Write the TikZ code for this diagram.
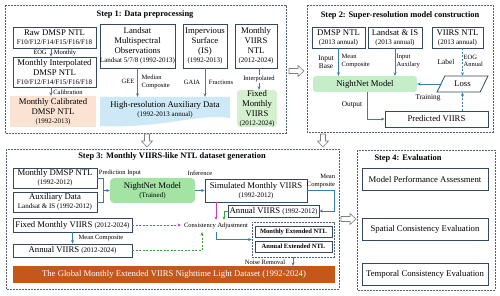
\documentclass[tikz,border=0pt]{standalone}
\usepackage{fontspec}
\setmainfont{Liberation Serif}
\usetikzlibrary{arrows.meta,shapes.geometric,calc}
\definecolor{boxc}{HTML}{34495E}
\definecolor{framec}{HTML}{4F5F70}
\definecolor{arrc}{HTML}{3A7DB0}
\definecolor{peach}{HTML}{FBE3D4}
\definecolor{skyc}{HTML}{CDE9F8}
\definecolor{lgreen}{HTML}{D5F0CF}
\definecolor{mgreen}{HTML}{A3E3A3}
\definecolor{ngreen}{HTML}{C5EDC8}
\definecolor{orangec}{HTML}{C4581B}
\definecolor{magc}{HTML}{C33DC3}
\definecolor{grnc}{HTML}{3E9B3E}
\definecolor{hollowc}{HTML}{7F7F7F}
\newcommand\fmain{\fontsize{8.7}{10}\selectfont}
\newcommand\fsmall{\fontsize{7}{8}\selectfont}
\newcommand\flab{\fontsize{6.5}{7.6}\selectfont}
\newcommand\flabb{\fontsize{7.3}{8}\selectfont}
\newcommand\ftitle{\fontsize{8.4}{10}\selectfont\bfseries}
\newcommand\hollowright[3]{\draw[hollow] (#1,#3-2.5) -- (#2-6,#3-2.5) -- (#2-6,#3-5.5) -- (#2,#3) -- (#2-6,#3+5.5) -- (#2-6,#3+2.5) -- (#1,#3+2.5) -- cycle;}
\newcommand\hollowdown[3]{\draw[hollow] (#1-2.5,#2) -- (#1-2.5,#3-6) -- (#1-5.5,#3-6) -- (#1,#3) -- (#1+5.5,#3-6) -- (#1+2.5,#3-6) -- (#1+2.5,#2) -- cycle;}
\tikzset{
  bx/.style={draw=boxc, line width=0.8pt, inner sep=0pt, align=center, font=\fmain},
  fillbox/.style={inner sep=0pt, align=center, font=\fmain},
  frame/.style={draw=framec, line width=0.7pt, dash pattern=on 2pt off 1pt},
  arr/.style={draw=arrc, line width=0.7pt, -{Stealth[length=3.5pt,width=3pt]}},
  ln/.style={draw=arrc, line width=0.7pt},
  dsh/.style={dash pattern=on 2pt off 1.5pt},
  lab/.style={font=\flab, inner sep=0.5pt, align=center},
  labb/.style={font=\flabb, inner sep=0.5pt, align=center},
  ttl/.style={font=\ftitle, inner sep=0pt},
  hollow/.style={draw=hollowc, fill=white, line width=0.6pt}
}
\begin{document}
\begin{tikzpicture}[x=1pt,y=-1pt]
\useasboundingbox (0,0) rectangle (500,296);
% frames
\draw[frame] (5,5) rectangle (286,133);
\draw[frame] (307,5) rectangle (493,132);
\draw[frame] (6,149) rectangle (339,289);
\draw[frame] (357,150) rectangle (495,290);
% hollow arrows
\hollowright{289}{304}{71}
\hollowdown{147}{134}{147}
\hollowdown{323}{134}{147}
\hollowright{341}{356}{219}

% ---------- Step 1 ----------
\node[ttl] (t1) at (145,15) {Step 1: Data preprocessing};
\node[bx, minimum width=83pt, minimum height=21pt] (raw) at (54.5,37.5) {Raw DMSP NTL\\[-1pt]{\fsmall F10/F12/F14/F15/F16/F18}};
\node[bx, minimum width=83pt, minimum height=30pt] (interp) at (54.5,72) {Monthly Interpolated\\DMSP NTL\\[-1pt]{\fsmall F10/F12/F14/F15/F16/F18}};
\node[fillbox, fill=peach, minimum width=86pt, minimum height=31pt] (calib) at (53,111.5) {Monthly Calibrated\\DMSP NTL\\[-1pt]{\fsmall (1992-2013)}};
\draw[arr] ([xshift=-3.5pt]raw.south) -- ([xshift=-3.5pt]interp.north);
\draw[arr] ([xshift=-3.5pt]interp.south) -- ([xshift=-3.5pt]interp.south |- calib.north);
\node[lab] (leog) at (40,52.5) {EOG};
\node[lab] (lmon) at (65,52.5) {Monthly};
\node[lab] (lcal) at (68,92) {Calibration};

\node[bx, minimum width=75pt, minimum height=44pt] (landsat) at (137.5,46) {Landsat\\Multispectral\\Observations\\[-1pt]{\fsmall Landsat 5/7/8 (1992-2013)}};
\node[bx, minimum width=44pt, minimum height=44pt] (imp) at (205,46) {Impervious\\Surface\\(IS)\\[-1pt]{\fsmall (1992-2013)}};
\node[bx, minimum width=42pt, minimum height=44pt] (mviirs) at (256,46) {Monthly\\VIIRS\\NTL\\[-1pt]{\fsmall (2012-2024)}};
\fill[skyc] (100,97) -- (230,97) -- (230,118) .. controls (200,113) and (160,129) .. (100,126) -- cycle;
\node[fillbox, minimum width=130pt, minimum height=26pt] (aux) at (165,110) {High-resolution Auxiliary Data\\[-1pt]{\fsmall (1992-2013 annual)}};
\draw[arr] (landsat.south) -- (landsat.south |- aux.north);
\draw[arr] (imp.south) -- (imp.south |- aux.north);
\node[lab] (lgee) at (128,81.5) {GEE};
\node[lab, anchor=west, align=left] (lmed) at (141,82) {Median\\Composite};
\node[lab] (lgaia) at (192,82) {GAIA};
\node[lab] (lfrac) at (221,82) {Fractions};
\node[fillbox, fill=lgreen, rounded corners=3pt, minimum width=40pt, minimum height=37pt] (fixed) at (257,108.5) {Fixed\\Monthly\\VIIRS\\[-1pt]{\fsmall (2012-2024)}};
\draw[arr] ([xshift=3pt]mviirs.south) -- ([xshift=3pt]mviirs.south |- fixed.north) node[lab, fill=white, midway, inner sep=1pt] (linterp) {Interpolated};

% ---------- Step 2 ----------
\node[ttl] (t2) at (400,15) {Step 2: Super-resolution model construction};
\node[bx, minimum width=53pt, minimum height=21pt] (dmsp2) at (338.5,37.5) {DMSP NTL\\[-1pt]{\fsmall (2013 annual)}};
\node[bx, minimum width=54pt, minimum height=21pt] (lis) at (395,37.5) {Landsat \& IS\\[-1pt]{\fsmall (2013 annual)}};
\node[bx, minimum width=51pt, minimum height=21pt] (viirs2) at (457.5,37.5) {VIIRS NTL\\[-1pt]{\fsmall (2013 annual)}};
\node[fillbox, fill=ngreen, rounded corners=3pt, minimum width=104pt, minimum height=16pt] (nn) at (365,84) {NightNet Model};
\node[draw=boxc, line width=0.8pt, trapezium, trapezium left angle=58, trapezium right angle=122, trapezium stretches=true, minimum width=51pt, minimum height=16pt, inner sep=0pt, font=\fmain] (loss) at (462.5,84) {Loss};
\node[bx, minimum width=103pt, minimum height=16pt] (pred) at (436.5,119) {Predicted VIIRS};
\draw[arr] (dmsp2.south) -- (dmsp2.south |- nn.north);
\draw[arr] (lis.south) -- (lis.south |- nn.north);
\draw[arr, dsh] (loss.north |- viirs2.south) -- (loss.north);
\draw[arr] (loss.west) -- (nn.east);
\draw[arr] ([xshift=2pt]nn.south) |- (pred.west);
\draw[arr, dsh] (loss.south |- pred.north) -- (loss.south);
\node[labb] (linb) at (326,62) {Input\\Base};
\node[lab, anchor=west, align=left] (lmc2) at (341,61) {Mean\\Composite};
\node[lab, anchor=west, align=left] (liaux) at (396,61) {Input\\Auxilary};
\node[labb] (llabel) at (446,62.5) {Label};
\node[lab, anchor=west, align=left] (leoga) at (463,61) {EOG\\Annual};
\node[labb] (lout) at (352,105) {Output};
\node[labb] (ltrain) at (428,98) {Training};

% ---------- Step 3 ----------
\node[ttl] (t3) at (172,157) {Step 3: Monthly VIIRS-like NTL dataset generation};
\node[bx, minimum width=84pt, minimum height=20pt] (mdmsp) at (55,178) {Monthly DMSP NTL\\[-1pt]{\fsmall (1992-2012)}};
\node[bx, minimum width=84pt, minimum height=20pt] (auxd) at (55,202) {Auxiliary Data\\[-1pt]{\fsmall Landsat \& IS (1992-2012)}};
\node[fillbox, fill=mgreen, rounded corners=4pt, minimum width=85pt, minimum height=25pt] (nn3) at (152.5,190.5) {NightNet Model\\[-1pt]{\fsmall (Trained)}};
\coordinate (jn) at (103,190.5);
\draw[ln] (mdmsp.east) -| (jn);
\draw[ln] (auxd.east) -| (jn);
\draw[arr] (jn) -- (nn3.west);
\node[lab] (lpred) at (120,173) {Prediction Input};
\node[bx, minimum width=102pt, minimum height=23pt] (sim) at (256,190.5) {Simulated Monthly VIIRS\\[-1pt]{\fsmall (1992-2012)}};
\draw[arr] (nn3.east) -- (sim.west);
\node[lab] (linf) at (200,173) {Inference};
\node[bx, minimum width=91pt, minimum height=12pt] (ann12) at (273.5,211) {Annual VIIRS {\fsmall (1992-2012)}};
\draw[arr] (sim.east) -- ++(27,0) |- (ann12.east);
\node[lab, align=right] (lmc3) at (321,181) {Mean\\Composite};
\node[lab, inner sep=3pt] (cons) at (216,226) {Consistency Adjustment};
\draw[arr, draw=magc] (sim.south -| cons.north) -- (cons.north);
\draw[arr, draw=grnc] (ann12.west) -| ($(cons.north)+(8,0)$);
\node[bx, minimum width=119pt, minimum height=14pt] (mfix) at (72.5,225) {Fixed Monthly VIIRS {\fsmall (2012-2024)}};
\node[bx, minimum width=119pt, minimum height=13pt] (ann24) at (72.5,250.5) {Annual VIIRS {\fsmall (2012-2024)}};
\draw[arr] (mfix.south) -- (ann24.north);
\node[lab, anchor=west] (lmc4) at (78,238) {Mean Composite};
\draw[arr, dsh, draw=magc] (mfix.east) -- (mfix.east -| cons.west);
\draw[arr, dsh, draw=grnc] (ann24.east) -| ($(cons.south)+(-14,0)$);
\node[frame, minimum width=82pt, minimum height=35pt, inner sep=0pt] (grp) at (293,239.5) {};
\node[bx, font=\fontsize{6.5}{7.5}\selectfont\bfseries, minimum width=77pt, minimum height=11pt] (mext) at (293.5,231.5) {Monthly Extended NTL};
\node[bx, font=\fontsize{6.5}{7.5}\selectfont\bfseries, minimum width=77pt, minimum height=11pt] (aext) at (293.5,246.5) {Annual Extended NTL};
\draw[arr] (cons.south) |- (grp.west);
\node[fillbox, fill=orangec, text=white, minimum width=322pt, minimum height=17pt] (banner) at (174,274.5) {The Global Monthly Extended VIIRS Nighttime Light Dataset (1992-2024)};
\draw[arr] (grp.south) -- (grp.south |- banner.north);
\node[lab] (lnoise) at (265,262) {Noise Removal};

% ---------- Step 4 ----------
\node[ttl] (t4) at (408,158) {Step 4: Evaluation};
\node[bx, minimum width=126pt, minimum height=22pt] (ev1) at (425,179) {Model Performance Assessment};
\node[bx, minimum width=126pt, minimum height=22pt] (ev2) at (425,229) {Spatial Consistency Evaluation};
\node[bx, minimum width=126pt, minimum height=22pt] (ev3) at (425,274) {Temporal Consistency Evaluation};
\end{tikzpicture}
\end{document}
